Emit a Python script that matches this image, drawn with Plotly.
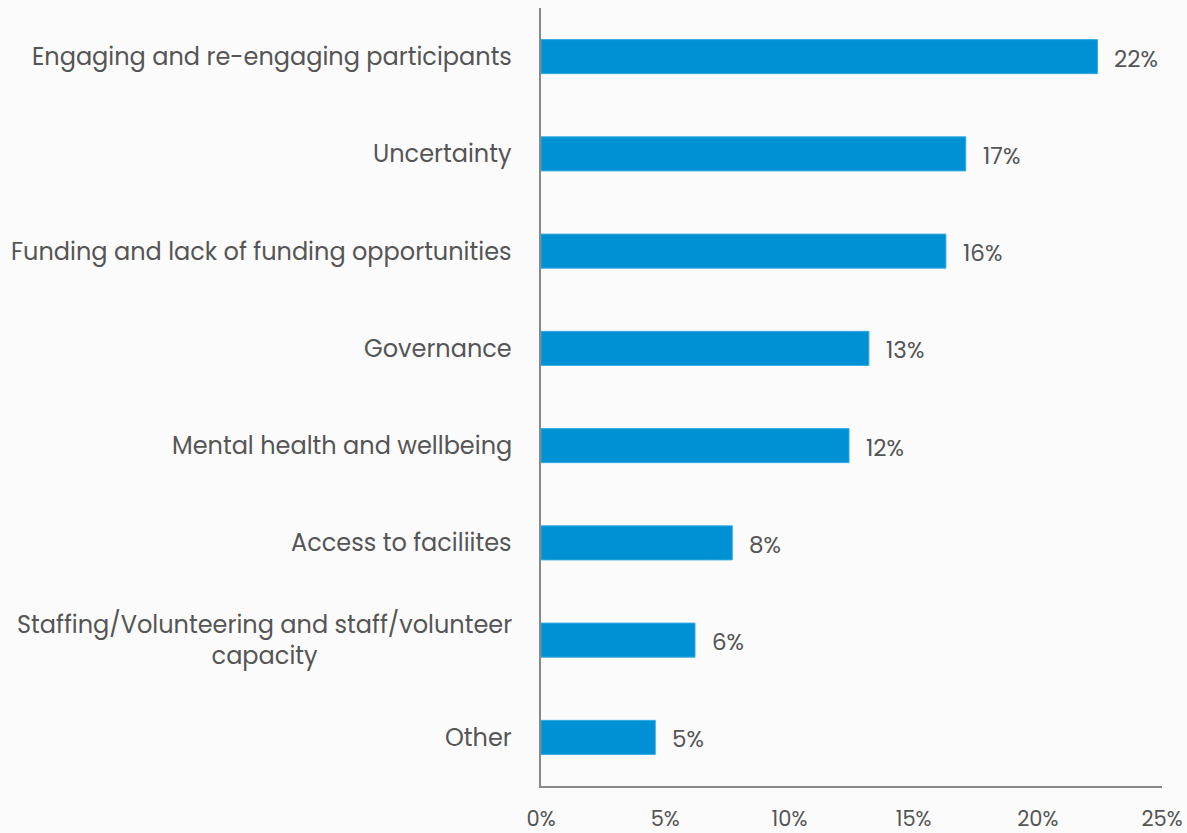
import plotly.graph_objects as go

# Survey responses: main challenges reported (share of responses, %)
categories = [
    "Engaging and re-engaging participants",
    "Uncertainty",
    "Funding and lack of funding opportunities",
    "Governance",
    "Mental health and wellbeing",
    "Access to faciliites",
    "Staffing/Volunteering and staff/volunteer<br>capacity",
    "Other",
]
shares = [22.4, 17.1, 16.3, 13.2, 12.4, 7.7, 6.2, 4.6]
tick_values = [0, 5, 10, 15, 20, 25]
tick_labels = ["0%", "5%", "10%", "15%", "20%", "25%"]

text_color = "#555555"
font_family = "Poppins, 'Open Sans', sans-serif"

fig = go.Figure()
fig.add_trace(go.Bar(
    x=shares,
    y=categories,
    orientation="h",
    width=0.35,
    marker=dict(color="#0090d4", line=dict(color="#33aae2", width=1)),
    hoverinfo="skip",
))

# Value labels to the right of each bar
for cat, v in zip(categories, shares):
    fig.add_annotation(
        x=v, y=cat, text=f"{round(v):.0f}%",
        xanchor="left", yanchor="middle", xshift=15, yshift=-2,
        showarrow=False,
        font=dict(family=font_family, size=23, color=text_color),
    )

# Category labels, centred within their block and right-anchored to the axis
for cat in categories:
    fig.add_annotation(
        x=0, xref="paper", y=cat, text=cat,
        xanchor="right", yanchor="middle", align="center", xshift=-27,
        showarrow=False,
        font=dict(family=font_family, size=24, color=text_color),
    )

fig.update_layout(
    width=1187, height=833,
    margin=dict(l=541, r=25, t=8, b=47, autoexpand=False),
    paper_bgcolor="#fbfbfb",
    plot_bgcolor="#fbfbfb",
    showlegend=False,
    font=dict(family=font_family, size=20, color=text_color),
    bargap=0.65,
)
fig.update_xaxes(
    range=[0, 25],
    tickvals=tick_values,
    ticktext=tick_labels,
    showgrid=False,
    zeroline=False,
    showline=True,
    linecolor="#888888",
    linewidth=1.5,
    ticks="",
    ticklabelstandoff=13,
    tickfont=dict(size=21, color=text_color),
    automargin=False,
    fixedrange=True,
)
fig.update_yaxes(
    categoryorder="array",
    categoryarray=categories[::-1],
    showgrid=False,
    zeroline=False,
    showline=True,
    linecolor="#888888",
    linewidth=1.5,
    ticks="",
    showticklabels=False,
    automargin=False,
    fixedrange=True,
)

fig.write_html("out.html")
